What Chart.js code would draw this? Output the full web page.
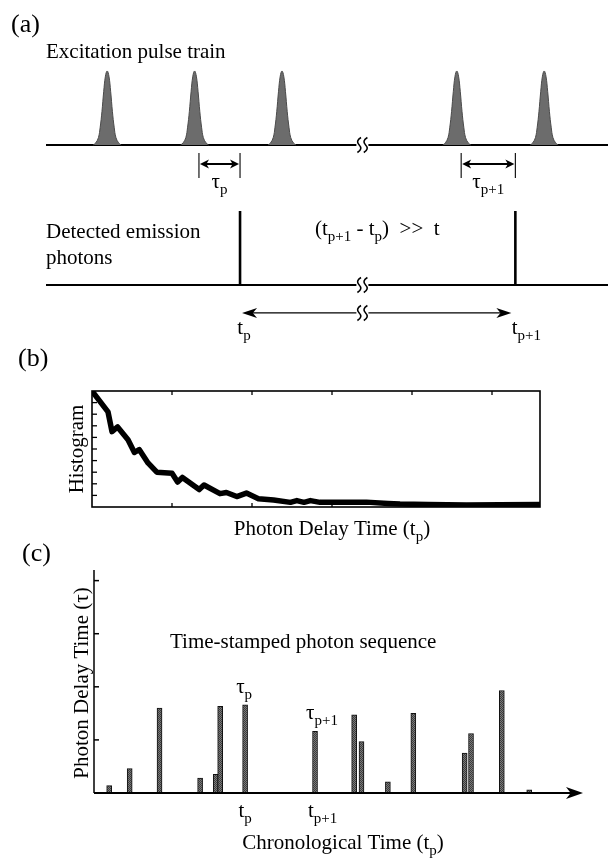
<!DOCTYPE html>
<html>
<head>
<meta charset="utf-8">
<script src="https://cdn.jsdelivr.net/npm/chart.js@4.4.1/dist/chart.umd.min.js"></script>
<style>
  html, body { margin: 0; padding: 0; background: #fff; }
  #wrap { position: relative; width: 608px; height: 858px; }
  #wrap canvas { position: absolute; left: 0; top: 0; }
</style>
</head>
<body>
<div id="wrap">
  <canvas id="chartA" width="608" height="858"></canvas>
  <canvas id="chartB" width="608" height="858"></canvas>
  <canvas id="chartC" width="608" height="858"></canvas>
</div>
<script>
// (a) excitation pulses / detected photons (time in pulse periods)
const pulseTimes = [1, 2, 3, 5, 6];
const pulseOffsets = [-0.16, -0.13, -0.1, -0.08, -0.06, -0.04, -0.02, 0, 0.02, 0.04, 0.06, 0.08, 0.1, 0.13, 0.16];
const pulseProfile = [0, 0.03, 0.1, 0.24, 0.45, 0.72, 0.93, 1, 0.93, 0.72, 0.45, 0.24, 0.1, 0.03, 0];
const photonTimes = [2.52, 5.67];
const photonHeights = [1, 1];
const breakTime = 3.92;

// (b) delay time histogram
const histX = [0, 0.2, 0.25, 0.32, 0.45, 0.53, 0.59, 0.7, 0.81, 1.0, 1.07, 1.13, 1.34, 1.4, 1.6, 1.68, 1.81, 1.93,
  2.08, 2.27, 2.48, 2.56, 2.65, 2.73, 2.85, 3.1, 3.43, 3.7, 3.85, 4.2, 4.68, 5.1, 5.6];
const histY = [10, 8.2, 6.5, 6.9, 5.8, 4.7, 4.95, 3.8, 3.0, 2.9, 2.15, 2.55, 1.5, 1.9, 1.15, 1.25, 0.9, 1.2,
  0.72, 0.6, 0.4, 0.55, 0.4, 0.55, 0.4, 0.42, 0.42, 0.3, 0.25, 0.22, 0.18, 0.2, 0.22];
const histXTicks = [1, 2, 3, 4, 5];
const histYTicks = [1, 2, 3, 4, 5, 6, 7, 8, 9];

// (c) time-stamped photon sequence
const seqTimes = [0.31, 0.73, 1.34, 2.17, 2.49, 2.58, 3.09, 4.52, 5.32, 5.47, 6.01, 6.53, 7.58, 7.71, 8.34, 8.9];
const seqDelays = [0.14, 0.46, 1.6, 0.28, 0.35, 1.63, 1.66, 1.16, 1.47, 0.97, 0.21, 1.5, 0.75, 1.12, 1.93, 0.06];
const seqYTicks = [1, 2, 3, 4];
const markP = 6; // index of photon p in the sequence

const SERIF = "'Liberation Serif', 'Times New Roman', serif";
const DET_BASE = -1.892;
const ARROW_Y = -2.27;

function font(size) { return size + 'px ' + SERIF; }

// parts: [[text, isSubscript], ...]
function richText(ctx, parts, x, y, align, size) {
  size = size || 21;
  const sub = Math.round(size * 0.72);
  let total = 0;
  const widths = parts.map(p => {
    ctx.font = font(p[1] ? sub : size);
    const w = ctx.measureText(p[0]).width;
    total += w;
    return w;
  });
  let cx = align === 'center' ? x - total / 2 : (align === 'right' ? x - total : x);
  ctx.textAlign = 'left';
  ctx.textBaseline = 'alphabetic';
  ctx.fillStyle = '#000';
  parts.forEach((p, i) => {
    ctx.font = font(p[1] ? sub : size);
    ctx.fillText(p[0], cx, y + (p[1] ? size * 0.27 : 0));
    cx += widths[i];
  });
}

function vertText(ctx, parts, x, y, size) {
  ctx.save();
  ctx.translate(x, y);
  ctx.rotate(-Math.PI / 2);
  richText(ctx, parts, 0, 0, 'center', size);
  ctx.restore();
}

function arrowHead(ctx, x, y, dir, len, half) {
  ctx.beginPath();
  ctx.moveTo(x, y);
  ctx.lineTo(x - dir * len, y - half);
  ctx.lineTo(x - dir * len * 0.72, y);
  ctx.lineTo(x - dir * len, y + half);
  ctx.closePath();
  ctx.fill();
}

// line-break mark
function squiggle(ctx, x, y) {
  ctx.save();
  ctx.fillStyle = '#fff';
  ctx.fillRect(x - 6, y - 2, 12, 4);
  ctx.strokeStyle = '#000';
  ctx.lineWidth = 1.6;
  [-3.2, 3.2].forEach(dx => {
    const cx = x + dx;
    ctx.beginPath();
    ctx.moveTo(cx + 1.8, y - 7.5);
    ctx.quadraticCurveTo(cx - 4, y - 4, cx, y);
    ctx.quadraticCurveTo(cx + 4, y + 4, cx - 1.8, y + 7.5);
    ctx.stroke();
  });
  ctx.restore();
}

function hLine(ctx, x1, x2, y, w) {
  ctx.beginPath();
  ctx.lineWidth = w;
  ctx.moveTo(x1, y);
  ctx.lineTo(x2, y);
  ctx.stroke();
}

function vLine(ctx, x, y1, y2, w) {
  ctx.beginPath();
  ctx.lineWidth = w;
  ctx.moveTo(x, y1);
  ctx.lineTo(x, y2);
  ctx.stroke();
}

Chart.defaults.font.family = SERIF;
Chart.defaults.color = '#000';

// ---------- panel (a) ----------
const pulseSets = pulseTimes.map(t => ({
  data: pulseOffsets.map((o, i) => ({ x: t + o, y: pulseProfile[i] })),
  fill: 'origin',
  backgroundColor: '#6c6c6c',
  borderColor: '#4a4a4a',
  borderWidth: 1,
  pointRadius: 0,
  tension: 0.4
}));
const photonSets = photonTimes.map((t, i) => ({
  data: [{ x: t, y: DET_BASE }, { x: t, y: DET_BASE + photonHeights[i] }],
  borderColor: '#000',
  borderWidth: 2.6,
  pointRadius: 0,
  fill: false
}));

const panelA = {
  id: 'panelA',
  beforeDatasetsDraw(chart) {
    const { ctx, chartArea, scales: { y } } = chart;
    ctx.save();
    ctx.strokeStyle = '#000';
    hLine(ctx, chartArea.left, chartArea.right, y.getPixelForValue(0), 2);
    hLine(ctx, chartArea.left, chartArea.right, y.getPixelForValue(DET_BASE), 2);
    ctx.restore();
  },
  afterDatasetsDraw(chart) {
    const { ctx, scales: { x, y } } = chart;
    const base = y.getPixelForValue(0);
    const det = y.getPixelForValue(DET_BASE);
    const arr = y.getPixelForValue(ARROW_Y);
    ctx.save();
    ctx.strokeStyle = '#000';
    ctx.fillStyle = '#000';

    const bx = x.getPixelForValue(breakTime);
    squiggle(ctx, bx, base);
    squiggle(ctx, bx, det);

    // delay brackets: from the exciting pulse to the photon
    photonTimes.forEach((t, i) => {
      const start = Math.max(...pulseTimes.filter(p => p < t)) + 0.05;
      const x1 = x.getPixelForValue(start);
      const x2 = x.getPixelForValue(t);
      vLine(ctx, x1, base + 8, base + 33, 1.1);
      vLine(ctx, x2, base + 8, base + 33, 1.1);
      hLine(ctx, x1 + 4, x2 - 4, base + 19, 2);
      arrowHead(ctx, x2 - 1, base + 19, 1, 9, 4.5);
      arrowHead(ctx, x1 + 1, base + 19, -1, 9, 4.5);
      richText(ctx, [['\u03c4', 0], [i === 0 ? 'p' : 'p+1', 1]], (x1 + x2) / 2, base + 43, 'center');
    });

    // chronological interval arrow
    const a1 = x.getPixelForValue(photonTimes[0]) + 2;
    const a2 = x.getPixelForValue(photonTimes[1]) - 4;
    hLine(ctx, a1 + 6, a2 - 6, arr, 1.2);
    arrowHead(ctx, a1, arr, -1, 15, 5);
    arrowHead(ctx, a2, arr, 1, 15, 5);
    squiggle(ctx, bx, arr);
    richText(ctx, [['t', 0], ['p', 1]], a1 + 2, arr + 21, 'center');
    richText(ctx, [['t', 0], ['p+1', 1]], a2 + 15, arr + 21, 'center');

    ctx.font = font(26);
    ctx.textAlign = 'left';
    ctx.fillText('(a)', 11, 32);
    ctx.font = font(21);
    ctx.fillText('Excitation pulse train', 46, 58);
    ctx.fillText('Detected emission', 46, 238);
    ctx.fillText('photons', 46, 264);
    richText(ctx, [['(t', 0], ['p+1', 1], [' - t', 0], ['p', 1], [')  >>  t', 0]], 315, 235, 'left');
    ctx.restore();
  }
};

new Chart(document.getElementById('chartA'), {
  type: 'line',
  data: { datasets: pulseSets.concat(photonSets) },
  options: {
    responsive: false,
    animation: false,
    layout: { padding: { left: 46, right: 0, top: 0, bottom: 513 } },
    plugins: { legend: { display: false }, tooltip: { enabled: false } },
    scales: {
      x: { type: 'linear', min: 0.3, max: 6.73, display: false },
      y: { type: 'linear', min: -2.703, max: 1.959, display: false }
    }
  },
  plugins: [panelA]
});

// ---------- panel (b) ----------
const panelB = {
  id: 'panelB',
  afterDatasetsDraw(chart) {
    const { ctx, chartArea: ca, scales: { x, y } } = chart;
    ctx.save();
    ctx.strokeStyle = '#000';
    ctx.lineWidth = 1.6;
    ctx.strokeRect(ca.left, ca.top, ca.right - ca.left, ca.bottom - ca.top);
    histYTicks.forEach(v => hLine(ctx, ca.left, ca.left + 5, y.getPixelForValue(v), 1.3));
    histXTicks.forEach(v => {
      const px = x.getPixelForValue(v);
      vLine(ctx, px, ca.top, ca.top + 4, 1.3);
      vLine(ctx, px, ca.bottom, ca.bottom - 4, 1.3);
    });
    ctx.fillStyle = '#000';
    ctx.font = font(26);
    ctx.textAlign = 'left';
    ctx.fillText('(b)', 18, 366);
    vertText(ctx, [['Histogram', 0]], 83, 449, 21);
    richText(ctx, [['Photon Delay Time (t', 0], ['p', 1], [')', 0]], 332, 535, 'center');
    ctx.restore();
  }
};

new Chart(document.getElementById('chartB'), {
  type: 'line',
  data: {
    datasets: [{
      data: histX.map((v, i) => ({ x: v, y: histY[i] })),
      borderColor: '#000',
      borderWidth: 5.5,
      borderJoinStyle: 'round',
      borderCapStyle: 'round',
      pointRadius: 0,
      fill: false,
      tension: 0
    }]
  },
  options: {
    responsive: false,
    animation: false,
    layout: { padding: { left: 92, right: 68, top: 391, bottom: 351 } },
    plugins: { legend: { display: false }, tooltip: { enabled: false } },
    scales: {
      x: { type: 'linear', min: 0, max: 5.6, display: false },
      y: { type: 'linear', min: 0, max: 10, display: false }
    }
  },
  plugins: [panelB]
});

// ---------- panel (c) ----------
function stipple() {
  const c = document.createElement('canvas');
  c.width = 2; c.height = 2;
  const g = c.getContext('2d');
  g.fillStyle = '#7a7a7a'; g.fillRect(0, 0, 2, 2);
  g.fillStyle = '#3c3c3c'; g.fillRect(0, 0, 1, 1); g.fillRect(1, 1, 1, 1);
  return g.createPattern(c, 'repeat');
}

const panelC = {
  id: 'panelC',
  afterDatasetsDraw(chart) {
    const { ctx, chartArea: ca, scales: { x, y } } = chart;
    const y0 = y.getPixelForValue(0);
    ctx.save();
    ctx.strokeStyle = '#000';
    ctx.fillStyle = '#000';
    vLine(ctx, ca.left, y0, ca.top, 1.5);
    seqYTicks.forEach(v => hLine(ctx, ca.left, ca.left + 5, y.getPixelForValue(v), 1.5));
    hLine(ctx, ca.left, ca.right - 8, y0, 2);
    arrowHead(ctx, ca.right, y0, 1, 17, 6);

    const xp = x.getPixelForValue(seqTimes[markP]);
    const xq = x.getPixelForValue(seqTimes[markP + 1]);
    richText(ctx, [['\u03c4', 0], ['p', 1]], xp - 1, y.getPixelForValue(seqDelays[markP]) - 12, 'center');
    richText(ctx, [['\u03c4', 0], ['p+1', 1]], xq - 9, y.getPixelForValue(seqDelays[markP + 1]) - 12, 'left');
    richText(ctx, [['t', 0], ['p', 1]], xp, y0 + 24, 'center');
    richText(ctx, [['t', 0], ['p+1', 1]], xq - 7, y0 + 24, 'left');

    ctx.font = font(26);
    ctx.textAlign = 'left';
    ctx.fillText('(c)', 22, 561);
    ctx.font = font(21);
    ctx.fillText('Time-stamped photon sequence', 170, 648);
    vertText(ctx, [['Photon Delay Time (\u03c4)', 0]], 88, 683, 21);
    richText(ctx, [['Chronological Time (t', 0], ['p', 1], [')', 0]], 343, 849, 'center');
    ctx.restore();
  }
};

new Chart(document.getElementById('chartC'), {
  type: 'bar',
  data: {
    datasets: [{
      data: seqTimes.map((t, i) => ({ x: t, y: seqDelays[i] })),
      backgroundColor: stipple(),
      borderColor: '#111',
      borderWidth: 1,
      barThickness: 5
    }]
  },
  options: {
    responsive: false,
    animation: false,
    layout: { padding: { left: 94, right: 25, top: 570, bottom: 65 } },
    plugins: { legend: { display: false }, tooltip: { enabled: false } },
    scales: {
      x: { type: 'linear', min: 0, max: 10, offset: false, display: false },
      y: { type: 'linear', min: 0, max: 4.2, display: false }
    }
  },
  plugins: [panelC]
});
</script>
</body>
</html>
